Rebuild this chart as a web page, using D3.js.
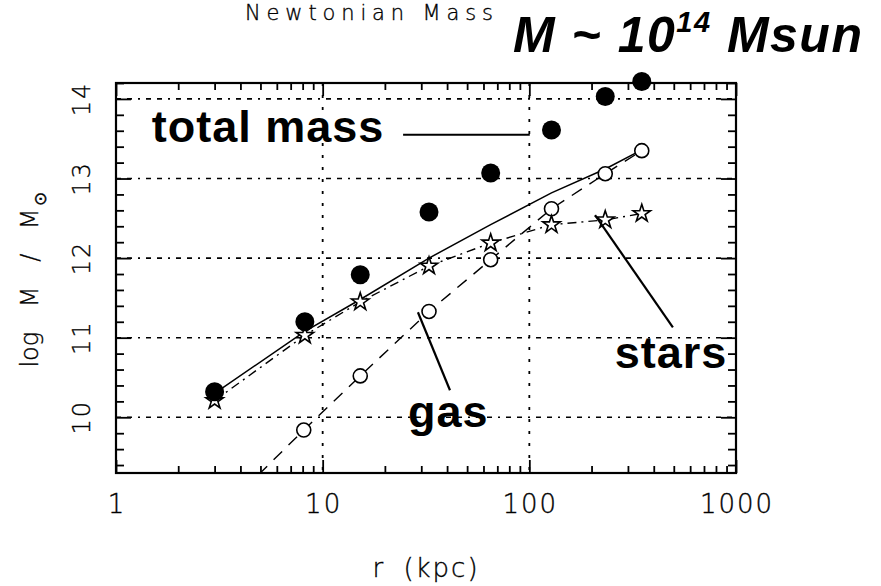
<!DOCTYPE html>
<html>
<head>
<meta charset="utf-8">
<script src="https://cdn.jsdelivr.net/npm/d3@7"></script>
<style>
  body { margin: 0; background: #fff; }
  .plain { font-family: "DejaVu Sans", sans-serif; font-weight: 200; fill: #000; stroke: #000; stroke-width: 0.35; }
  .bold  { font-family: "Liberation Sans", Arial, sans-serif; font-weight: bold; fill: #000; }
</style>
</head>
<body>
<svg id="chart" width="881" height="586"></svg>
<script>
// Radii of the sampled shells (kpc)
const radius      = [3, 8.2, 15.2, 32.7, 65, 128, 233, 350];
// log M / Msun : Newtonian total mass (filled circles)
const totalMass   = [10.32, 11.2, 11.79, 12.58, 13.07, 13.61, 14.03, 14.22];
// log M / Msun : stellar mass (stars, dash-dot line)
const starMass    = [10.21, 11.03, 11.45, 11.9, 12.19, 12.42, 12.48, 12.56];
// log M / Msun : gas mass (open circles)
const gasRadius   = [8.1, 15.2, 32.7, 65, 128, 233, 350];
const gasMass     = [9.84, 10.52, 11.33, 11.98, 12.62, 13.06, 13.35];
// dashed gas profile, continued inward to the lower edge of the plot
const gasLineR    = [4.9, 8.1, 15.2, 32.7, 65, 128, 233, 350];
const gasLineM    = [9.28, 9.84, 10.52, 11.33, 11.98, 12.62, 13.06, 13.35];
// gas + stars (solid line)
const baryonMass  = [10.3, 11.08, 11.48, 12.0, 12.42, 12.82, 13.12, 13.36];

const xTicks = [1, 10, 100, 1000];
const yTicks = [10, 11, 12, 13, 14];

const svg = d3.select("#chart");
const pL = 116, pR = 736, pT = 83, pB = 473;

const x = d3.scaleLog().domain([1, 1000]).range([pL, pR]);
const y = d3.scaleLinear().domain([9.3, 14.2]).range([pB, pT]);

// ---- grid ----
const grid = svg.append("g").attr("stroke", "#000").attr("fill", "none");
grid.selectAll("line.h").data(yTicks).join("line")
  .attr("class", "h")
  .attr("x1", pL).attr("x2", pR)
  .attr("y1", d => y(d)).attr("y2", d => y(d))
  .attr("stroke-width", 1.6)
  .attr("stroke-dasharray", "5,6,5,6,2,6");
grid.selectAll("line.v").data([10, 100]).join("line")
  .attr("class", "v")
  .attr("x1", d => x(d)).attr("x2", d => x(d))
  .attr("y1", pT).attr("y2", pB)
  .attr("stroke-width", 1.8)
  .attr("stroke-dasharray", "3,9");

// ---- axes ticks (inside, on all four sides) ----
const minorX = [];
[1, 10, 100].forEach(dec => { for (let k = 2; k <= 9; k++) minorX.push(k * dec); });
const minorY = d3.range(47, 72).map(i => i / 5).filter(v => Math.abs(v - Math.round(v)) > 1e-6);

function styleAxis(g) {
  g.select(".domain").remove();
  g.selectAll(".tick line").attr("stroke", "#000").attr("stroke-width", 1.8);
}
svg.append("g").attr("transform", `translate(0,${pB})`)
  .call(d3.axisBottom(x).tickValues(minorX).tickSize(-7).tickFormat("")).call(styleAxis);
svg.append("g").attr("transform", `translate(0,${pB})`)
  .call(d3.axisBottom(x).tickValues(xTicks).tickSize(-13).tickFormat("")).call(styleAxis);
svg.append("g").attr("transform", `translate(0,${pT})`)
  .call(d3.axisTop(x).tickValues(minorX).tickSize(-7).tickFormat("")).call(styleAxis);
svg.append("g").attr("transform", `translate(0,${pT})`)
  .call(d3.axisTop(x).tickValues(xTicks).tickSize(-13).tickFormat("")).call(styleAxis);
svg.append("g").attr("transform", `translate(${pL},0)`)
  .call(d3.axisLeft(y).tickValues(minorY).tickSize(-8).tickFormat("")).call(styleAxis);
svg.append("g").attr("transform", `translate(${pL},0)`)
  .call(d3.axisLeft(y).tickValues(yTicks).tickSize(-15).tickFormat("")).call(styleAxis);
svg.append("g").attr("transform", `translate(${pR},0)`)
  .call(d3.axisRight(y).tickValues(minorY).tickSize(-8).tickFormat("")).call(styleAxis);
svg.append("g").attr("transform", `translate(${pR},0)`)
  .call(d3.axisRight(y).tickValues(yTicks).tickSize(-15).tickFormat("")).call(styleAxis);

// frame
svg.append("rect")
  .attr("x", pL).attr("y", pT)
  .attr("width", pR - pL).attr("height", pB - pT)
  .attr("fill", "none").attr("stroke", "#000").attr("stroke-width", 2.2);

// ---- tick labels ----
svg.selectAll("text.xt").data(xTicks).join("text")
  .attr("class", "xt plain")
  .attr("x", d => x(d) + 1).attr("y", 513)
  .attr("text-anchor", "middle")
  .attr("font-size", 26)
  .attr("letter-spacing", 2)
  .text(d => d);
svg.selectAll("text.yt").data(yTicks).join("text")
  .attr("class", "yt plain")
  .attr("transform", d => `translate(90,${y(d)}) rotate(-90)`)
  .attr("text-anchor", "middle")
  .attr("font-size", 24)
  .attr("letter-spacing", 2)
  .text(d => d);

// ---- axis titles ----
svg.append("text").attr("class", "plain")
  .attr("x", (pL + pR) / 2).attr("y", 577)
  .attr("text-anchor", "middle").attr("font-size", 26)
  .attr("letter-spacing", 2).attr("word-spacing", 8)
  .text("r (kpc)");

const yl = svg.append("text").attr("class", "plain")
  .attr("transform", "translate(38,280) rotate(-90)")
  .attr("text-anchor", "middle").attr("font-size", 24)
  .attr("word-spacing", 17);
yl.append("tspan").text("log M / M");
yl.append("tspan").attr("dx", 2).attr("dy", 8).attr("font-size", 17).text("⊙");

svg.append("text").attr("class", "plain")
  .attr("x", 245).attr("y", 20)
  .attr("font-size", 21)
  .attr("textLength", 248).attr("lengthAdjust", "spacing")
  .text("Newtonian Mass");

// ---- plotted curves ----
svg.append("clipPath").attr("id", "plotArea")
  .append("rect").attr("x", pL).attr("y", pT)
  .attr("width", pR - pL).attr("height", pB - pT);

const line = d3.line().x(d => x(d[0])).y(d => y(d[1]));
const curves = svg.append("g").attr("clip-path", "url(#plotArea)")
  .attr("fill", "none").attr("stroke", "#000");

curves.append("path")
  .datum(d3.zip(gasLineR, gasLineM))
  .attr("d", line).attr("stroke-width", 1.4)
  .attr("stroke-dasharray", "12,9");
curves.append("path")
  .datum(d3.zip(radius, starMass))
  .attr("d", line).attr("stroke-width", 1.4)
  .attr("stroke-dasharray", "9,5,2,5");
curves.append("path")
  .datum(d3.zip(radius, baryonMass))
  .attr("d", line).attr("stroke-width", 1.5);

// ---- markers ----
const marks = svg.append("g");
marks.selectAll("circle.gas").data(d3.zip(gasRadius, gasMass)).join("circle")
  .attr("class", "gas")
  .attr("cx", d => x(d[0])).attr("cy", d => y(d[1])).attr("r", 7)
  .attr("fill", "#fff").attr("stroke", "#000").attr("stroke-width", 1.6);

const star = d3.symbol().type(d3.symbolStar).size(95);
marks.selectAll("path.star").data(d3.zip(radius, starMass)).join("path")
  .attr("class", "star")
  .attr("transform", d => `translate(${x(d[0])},${y(d[1])})`)
  .attr("d", star)
  .attr("fill", "#fff").attr("stroke", "#000").attr("stroke-width", 1.6);

marks.selectAll("circle.tot").data(d3.zip(radius, totalMass)).join("circle")
  .attr("class", "tot")
  .attr("cx", d => x(d[0])).attr("cy", d => y(d[1])).attr("r", 9.5)
  .attr("fill", "#000");

// ---- annotations (anchored in data coordinates) ----
const notes = [
  { text: "total mass", at: [1.49, 13.46], from: [24.5, 13.55], to: [100.5, 13.55] },
  { text: "stars",      at: [259, 10.62],  from: [495, 11.13],  to: [208, 12.54] },
  { text: "gas",        at: [25.9, 9.88],  from: [41.3, 10.34], to: [28.9, 11.32] }
];
const ann = svg.append("g");
ann.selectAll("line").data(notes).join("line")
  .attr("x1", d => x(d.from[0])).attr("y1", d => y(d.from[1]))
  .attr("x2", d => x(d.to[0])).attr("y2", d => y(d.to[1]))
  .attr("stroke", "#000").attr("stroke-width", 2.2);
ann.selectAll("text").data(notes).join("text")
  .attr("class", "bold")
  .attr("x", d => x(d.at[0])).attr("y", d => y(d.at[1]))
  .attr("font-size", 45)
  .attr("letter-spacing", 1)
  .text(d => d.text);

const big = svg.append("text").attr("class", "bold")
  .attr("x", 513).attr("y", 52)
  .attr("font-size", 50).attr("font-style", "italic")
  .attr("letter-spacing", 1.5);
big.append("tspan").text("M ~ 10");
big.append("tspan").attr("dy", -20).attr("font-size", 29).text("14");
big.append("tspan").attr("dy", 20).text(" Msun");
</script>
</body>
</html>
